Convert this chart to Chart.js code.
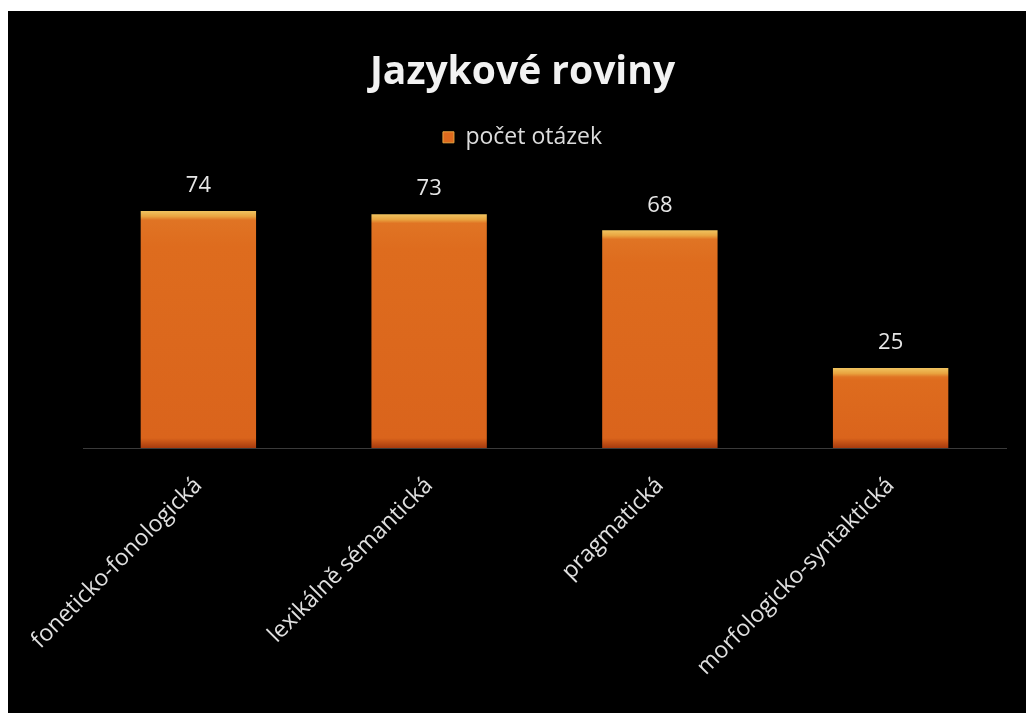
<!DOCTYPE html>
<html>
<head>
<meta charset="utf-8">
<script src="https://cdn.jsdelivr.net/npm/chart.js@4/dist/chart.umd.min.js"></script>
<style>
  html, body { margin: 0; padding: 0; background: #fff; }
  #wrap { position: absolute; left: 8px; top: 11px; width: 1018px; height: 702px; background: #000; }
</style>
</head>
<body>
<div id="wrap"><canvas id="chart" width="1018" height="702"></canvas></div>
<script>
// kategorie a hodnoty
const categories = ["foneticko-fonologická", "lexikálně sémantická", "pragmatická", "morfologicko-syntaktická"];
const counts = [74, 73, 68, 25];
const seriesName = "počet otázek";

// oranžový sloupec se světlou hranou nahoře a tmavší dole
function barFill(ctx) {
  const chart = ctx.chart;
  const y = chart.scales.y;
  if (!y || ctx.type !== "data") return "#dd6a1e";
  const top = y.getPixelForValue(ctx.raw);
  const bottom = y.getPixelForValue(0);
  const h = Math.max(bottom - top, 1);
  const g = chart.ctx.createLinearGradient(0, top, 0, bottom);
  const edge = Math.min(9 / h, 0.3);
  const foot = Math.min(10 / h, 0.3);
  g.addColorStop(0, "#f0c460");
  g.addColorStop(edge * 0.6, "#e9a440");
  g.addColorStop(edge, "#e07424");
  g.addColorStop(0.15, "#de6c1e");
  g.addColorStop(1 - foot, "#da641c");
  g.addColorStop(1, "#a63a0e");
  return g;
}

// popisky hodnot nad sloupci
const valueLabels = {
  id: "valueLabels",
  afterDatasetsDraw(chart) {
    const c = chart.ctx;
    const meta = chart.getDatasetMeta(0);
    c.save();
    c.fillStyle = "#e6e6e6";
    c.font = "22px 'Open Sans'";
    c.textAlign = "center";
    c.textBaseline = "middle";
    meta.data.forEach((bar, i) => {
      c.fillText(String(counts[i]), bar.x, bar.y - 25);
    });
    c.restore();
  }
};

// víc místa pod legendou, nadpis a legenda trochu doleva
const headerLayout = {
  id: "headerLayout",
  beforeInit(chart) {
    const fit = chart.legend.fit;
    chart.legend.fit = function () {
      fit.call(this);
      this.height += 33;
    };
  },
  afterLayout(chart) {
    [chart.titleBlock, chart.legend].forEach(b => {
      b.left -= 22;
      b.right -= 22;
    });
  }
};

new Chart(document.getElementById("chart"), {
  type: "bar",
  data: {
    labels: categories,
    datasets: [{
      label: seriesName,
      data: counts,
      backgroundColor: barFill,
      borderWidth: 0,
      categoryPercentage: 1,
      barPercentage: 0.5
    }]
  },
  options: {
    responsive: false,
    animation: false,
    layout: { padding: { left: 75, right: 20, top: 38, bottom: 8 } },
    plugins: {
      title: {
        display: true,
        text: "Jazykové roviny",
        color: "#f2f2f2",
        font: { family: "'Open Sans'", size: 39, weight: "bold" },
        padding: { top: 0, bottom: 20 }
      },
      legend: {
        display: true,
        labels: {
          color: "#dcdcdc",
          font: { family: "'Open Sans'", size: 23 },
          boxWidth: 11,
          boxHeight: 11,
          padding: 10,
          generateLabels: () => [{ text: seriesName, fillStyle: "#dd6a1e", strokeStyle: "#e9a440", lineWidth: 1, fontColor: "#dcdcdc" }]
        }
      },
      tooltip: { enabled: false }
    },
    scales: {
      x: {
        grid: { display: false, drawTicks: false },
        border: { display: true, color: "#3a3a3a", width: 1 },
        ticks: {
          color: "#e0e0e0",
          font: { family: "'Open Sans'", size: 23 },
          minRotation: 45,
          maxRotation: 45,
          padding: 24
        },
        // popisky smí přesahovat do okraje vlevo
        afterFit(scale) {
          scale.paddingLeft = 0;
          scale.paddingRight = 0;
        }
      },
      y: {
        display: false,
        min: 0,
        max: 80
      }
    }
  },
  plugins: [valueLabels, headerLayout]
});
</script>
</body>
</html>
